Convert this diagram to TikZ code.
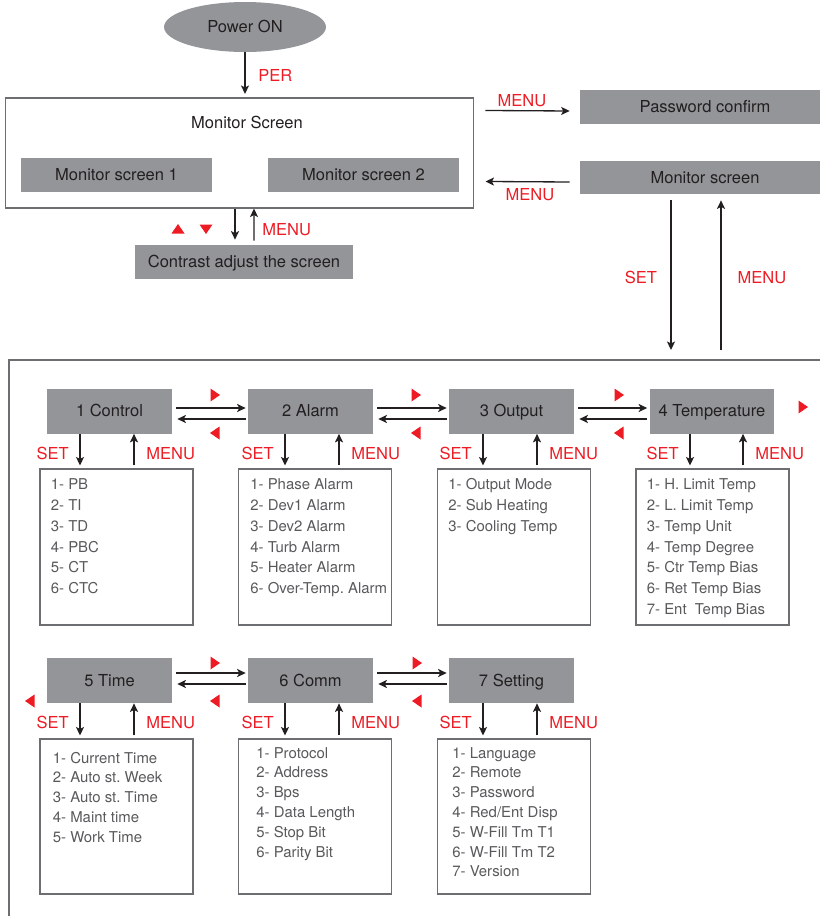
\documentclass[tikz,border=0pt]{standalone}
\usepackage{fontspec}
\setmainfont{TeX Gyre Heros}
\usetikzlibrary{shapes.geometric,arrows.meta,calc}
\definecolor{boxgray}{RGB}{147,149,152}
\definecolor{keyred}{RGB}{237,28,36}
\definecolor{itemgray}{RGB}{88,89,91}
\definecolor{linegray}{RGB}{109,110,113}
\definecolor{txtblack}{RGB}{35,31,32}
\frenchspacing

\begin{document}
\begin{tikzpicture}[
    x=0.02cm, y=-0.02cm,
    font=\fontsize{9.4}{11}\selectfont,
    gbox/.style={rectangle, fill=boxgray, inner sep=0pt, text=txtblack,
      text height=6.75pt, text depth=0pt},
    lbox/.style={rectangle, draw=linegray, line width=0.6pt, inner sep=0pt},
    menuitem/.style={anchor=base west, inner sep=0pt, text=itemgray,
      font=\fontsize{8.5}{10}\selectfont},
    keylabel/.style={inner sep=0pt, text=keyred, text height=6.75pt, text depth=0pt},
    arr/.style={-{Stealth[length=1.7mm,width=1.6mm,inset=0.4mm]}, line width=0.75pt, txtblack},
    tri/.pic={\fill[keyred] (-4.5,-6.5) -- (5,0) -- (-4.5,6.5) -- cycle;}
  ]
    % 画布范围
    \useasboundingbox (0,0) rectangle (820,916);
    \clip (0,0) rectangle (820,916);
    % 开机
    \node[gbox, ellipse, minimum width=3.24cm, minimum height=1cm] (pwr) at (245,27) {Power ON};
    % 监视画面大框及两个子画面
    \node[lbox, minimum width=9.38cm, minimum height=2.2cm] (mon) at (239.5,153) {};
    \node[inner sep=0pt, text=txtblack, text height=6.75pt, text depth=0pt] (monT) at (247,123) {Monitor Screen};
    \node[gbox, minimum width=3.82cm, minimum height=0.68cm] (ms1) at (116.5,175) {Monitor screen 1};
    \node[gbox, minimum width=3.82cm, minimum height=0.68cm] (ms2) at (363.5,175) {Monitor screen 2};
    % 对比度调节
    \node[gbox, minimum width=4.36cm, minimum height=0.68cm] (con) at (244,262) {Contrast adjust the screen};
    % 开机到监视画面
    \draw[arr, shorten >=2pt] (pwr.south) -- (pwr.south |- mon.north);
    \node[keylabel, anchor=west] (per) at (258,76) {PER};
    % 监视画面与对比度
    \draw[arr] ($(mon.south)+(-4.5,0)$) -- ($(con.north)+(-9,-5)$);
    \draw[arr] ($(con.north)+(10,-4)$) -- ($(mon.south)+(14.5,0)$);
    \node[keylabel, anchor=west] (cmenu) at (262,230) {MENU};
    \pic[rotate=90] at (178,229) {tri};
    \pic[rotate=-90] at (206,229) {tri};

    % 右侧: 密码确认
    \node[gbox, minimum width=5cm, minimum height=0.68cm] (pwd) at (705,107) {Password confirm};
    \node[gbox, minimum width=5cm, minimum height=0.66cm] (msr) at (705,177.5) {Monitor screen};
    \draw[arr] ($(mon.north east)+(11,13)$) -- ($(pwd.west)+(-10,4)$);
    \node[keylabel] (pmenu) at (522,101) {MENU};
    \draw[arr] ($(msr.west)+(-10,4.5)$) -- ($(mon.north east)+(11,84)$);
    \node[keylabel] (bmenu) at (530,195) {MENU};

    % 设置菜单外框
    \coordinate (frm) at (9,360);
    \draw[linegray, line width=0.8pt] (9,930) -- (frm) -- (830,360);
    % 进入/退出设置菜单
    \draw[arr] ($(msr.south)+(-34,6)$) -- ($(msr.south |- frm)+(-34,-10)$);
    \draw[arr] ($(msr.south |- frm)+(16,-10)$) -- ($(msr.south)+(16,6)$);
    \node[keylabel] (sset) at (641,278) {SET};
    \node[keylabel] (smenu) at (762,278) {MENU};

    % 第一行菜单
    \foreach \n/\x/\t in {1/109.5/1 Control, 2/310.5/2 Alarm, 3/511.5/3 Output, 4/712/4 Temperature}
      \node[gbox, minimum width=2.5cm, minimum height=0.9cm] (h\n) at (\x,411) {\t};
    % 第二行菜单
    \foreach \n/\x/\t in {5/109.5/5 Time, 6/310.5/6 Comm, 7/511.5/7 Setting}
      \node[gbox, minimum width=2.5cm, minimum height=0.9cm] (h\n) at (\x,680.5) {\t};
    % 子项框
    \foreach \n/\x in {1/116.5, 2/315, 3/514, 4/712.5}
      \node[lbox, minimum width=3.06cm, minimum height=3.12cm] (l\n) at (\x,547) {};
    \foreach \n/\x in {5/116.5, 6/315, 7/514}
      \node[lbox, minimum width=3.06cm, minimum height=3.1cm] (l\n) at (\x,816.5) {};

    % 菜单之间左右切换
    \foreach \a/\b in {1/2, 2/3, 3/4} {
      \draw[arr] ($(h\a.east)+(4,-3)$) -- ($(h\b.west)+(-2,-3)$);
      \draw[arr] ($(h\b.west)+(-2,8)$) -- ($(h\a.east)+(5,8)$);
    }
    \foreach \a/\b in {5/6, 6/7} {
      \draw[arr] ($(h\a.east)+(4,-7.5)$) -- ($(h\b.west)+(-2,-7.5)$);
      \draw[arr] ($(h\b.west)+(-2,3.5)$) -- ($(h\a.east)+(5,3.5)$);
    }
    % 红色三角按键
    \foreach \x in {215, 416, 619} {
      \pic at (\x,395) {tri};
      \pic[rotate=180] at (\x,433) {tri};
    }
    \pic at (803,407) {tri};
    \foreach \x in {215, 417} {
      \pic at (\x,663) {tri};
      \pic[rotate=180] at (\x,701) {tri};
    }
    \pic[rotate=180] at (30,701) {tri};

    % SET / MENU 上下箭头
    \foreach \n/\d/\u in {1/-29.5/24.5, 2/-25.5/28.5, 3/-28.5/25.5, 4/-22/31,
                          5/-29.5/24.5, 6/-25.5/28.5, 7/-28.5/25.5} {
      \draw[arr] ($(h\n.south)+(\d,0)$) -- ($(h\n.south |- l\n.north)+(\d,-3)$);
      \draw[arr] ($(h\n.south |- l\n.north)+(\u,-3)$) -- ($(h\n.south)+(\u,0)$);
      \node[keylabel, anchor=east] (s\n) at ($(h\n.south)+(\d-11,19.5)$) {SET};
      \node[keylabel, anchor=west] (m\n) at ($(h\n.south)+(\u+12,19.5)$) {MENU};
    }

    % 子项文字
    \foreach \t [count=\i] in {1- PB, 2- TI, 3- TD, 4- PBC, 5- CT, 6- CTC}
      \node[menuitem] (t1\i) at ($(l1.north west)+(11,21.3+20.8*\i-20.8)$) {\t};
    \foreach \t [count=\i] in {1- Phase Alarm, 2- Dev1 Alarm, 3- Dev2 Alarm, 4- Turb Alarm,
                               5- Heater Alarm, 6- Over-Temp. Alarm}
      \node[menuitem] (t2\i) at ($(l2.north west)+(12,21.3+20.8*\i-20.8)$) {\t};
    \foreach \t [count=\i] in {1- Output Mode, 2- Sub Heating, 3- Cooling Temp}
      \node[menuitem] (t3\i) at ($(l3.north west)+(11,21.3+20.8*\i-20.8)$) {\t};
    \foreach \t [count=\i] in {1- H. Limit Temp, 2- L. Limit Temp, 3- Temp Unit, 4- Temp Degree,
                               5- Ctr Temp Bias, 6- Ret Temp Bias, 7- Ent\ \ Temp Bias}
      \node[menuitem] (t4\i) at ($(l4.north west)+(11,21.3+20.8*\i-20.8)$) {\t};
    \foreach \t [count=\i] in {1- Current Time, 2- Auto st. Week, 3- Auto st. Time,
                               4- Maint time, 5- Work Time}
      \node[menuitem] (t5\i) at ($(l5.north west)+(13,24.6+19.8*\i-19.8)$) {\t};
    \foreach \t [count=\i] in {1- Protocol, 2- Address, 3- Bps, 4- Data Length,
                               5- Stop Bit, 6- Parity Bit}
      \node[menuitem] (t6\i) at ($(l6.north west)+(18,19.6+19.8*\i-19.8)$) {\t};
    \foreach \t [count=\i] in {1- Language, 2- Remote, 3- Password, 4- Red/Ent Disp,
                               5- W-Fill Tm T1, 6- W-Fill Tm T2, 7- Version}
      \node[menuitem] (t7\i) at ($(l7.north west)+(15,19.6+19.8*\i-19.8)$) {\t};
\end{tikzpicture}
\end{document}
